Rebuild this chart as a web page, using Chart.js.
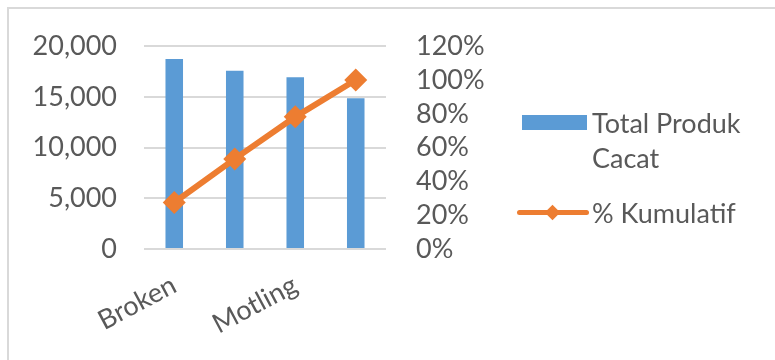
<!DOCTYPE html>
<html>
<head>
<meta charset="utf-8">
<script src="https://cdn.jsdelivr.net/npm/chart.js@4.4.1/dist/chart.umd.min.js"></script>
<style>
  body { margin: 0; background: #fff; }
  #wrap { position: relative; width: 775px; height: 360px; overflow: hidden; font-family: Lato, sans-serif; color: #595959; }
  #frame { position: absolute; left: 7px; top: 7px; width: 820px; height: 420px; border: 2px solid #d9d9d9; }
  #chart { position: absolute; left: 0; top: 0; }
  .item { position: absolute; left: 515px; display: flex; align-items: flex-start; }
  .sym { width: 77px; height: 35px; position: relative; flex: none; }
  .txt { width: 180px; font-size: 27px; line-height: 35px; }
  .box { position: absolute; left: 7px; right: 5px; top: 10px; height: 15px; }
  .ln { position: absolute; left: 2px; right: 3px; top: 15px; height: 5px; border-radius: 3px; }
  .dia { position: absolute; left: 32px; top: 12px; width: 11px; height: 11px; transform: rotate(45deg); }
</style>
</head>
<body>
<div id="wrap">
  <div id="frame"></div>
  <canvas id="chart" width="775" height="360"></canvas>
  <div id="legend"></div>
</div>
<script>
// ---------- data ----------
const categories = ["Broken", "Crack", "Motling", "Chipping"];
const totalCacat = [18750, 17580, 16930, 14870];
const persenKumulatif = [27.5, 53.3, 78.2, 100];
const leftTicks = [0, 5000, 10000, 15000, 20000];
const rightTicks = [0, 20, 40, 60, 80, 100, 120];

const BLUE = "#5B9BD5";
const ORANGE = "#ED7D31";
const TEXT = "#595959";
const FONT = { family: "Lato", size: 27 };

// ---------- chart ----------
const ctx = document.getElementById("chart");

const chart = new Chart(ctx, {
  type: "bar",
  data: {
    labels: categories,
    datasets: [
      {
        type: "line",
        label: "% Kumulatif",
        data: persenKumulatif,
        yAxisID: "y1",
        borderColor: ORANGE,
        backgroundColor: ORANGE,
        borderWidth: 6,
        pointStyle: "rectRot",
        pointRadius: 11.5,
        pointBorderWidth: 0,
        tension: 0,
        order: 0
      },
      {
        label: "Total Produk Cacat",
        data: totalCacat,
        yAxisID: "y",
        backgroundColor: BLUE,
        barPercentage: 0.29,
        categoryPercentage: 1,
        order: 1
      }
    ]
  },
  options: {
    responsive: false,
    animation: false,
    layout: { padding: { left: 0, top: 44, right: 289, bottom: 0 } },
    plugins: {
      legend: { display: false },
      tooltip: { enabled: false }
    },
    scales: {
      x: {
        grid: { display: false },
        border: { display: false },
        afterFit(s) { s.height = 111; },
        ticks: {
          autoSkip: false,
          minRotation: 28,
          maxRotation: 28,
          padding: 12,
          color: TEXT,
          font: FONT,
          callback: (v, i) => (i % 2 === 0 ? categories[i] : "")
        }
      },
      y: {
        position: "left",
        min: leftTicks[0],
        max: leftTicks[leftTicks.length - 1],
        afterFit(s) { s.width = 144; },
        afterBuildTicks(s) { s.ticks = leftTicks.map(v => ({ value: v })); },
        grid: { color: "#d9d9d9", lineWidth: 2, drawTicks: false },
        border: { display: false },
        ticks: {
          autoSkip: false,
          padding: 27,
          color: TEXT,
          font: FONT,
          callback: v => v.toLocaleString("en-US")
        }
      },
      y1: {
        position: "right",
        min: rightTicks[0],
        max: rightTicks[rightTicks.length - 1],
        afterFit(s) { s.width = 100; },
        afterBuildTicks(s) { s.ticks = rightTicks.map(v => ({ value: v })); },
        grid: { display: false, drawTicks: false },
        border: { display: false },
        ticks: {
          autoSkip: false,
          padding: 30,
          color: TEXT,
          font: FONT,
          callback: v => v + "%"
        }
      }
    }
  }
});

// ---------- legend (html, wraps like the original) ----------
const legendTops = { "Total Produk Cacat": 105, "% Kumulatif": 195 };
const legend = document.getElementById("legend");
chart.data.datasets.slice().reverse().forEach(ds => {
  const item = document.createElement("div");
  item.className = "item";
  item.style.top = legendTops[ds.label] + "px";
  const sym = document.createElement("div");
  sym.className = "sym";
  if (ds.type === "line") {
    sym.innerHTML = '<div class="ln" style="background:' + ds.borderColor + '"></div>' +
                    '<div class="dia" style="background:' + ds.borderColor + '"></div>';
  } else {
    sym.innerHTML = '<div class="box" style="background:' + ds.backgroundColor + '"></div>';
  }
  const txt = document.createElement("div");
  txt.className = "txt";
  txt.textContent = ds.label;
  item.appendChild(sym);
  item.appendChild(txt);
  legend.appendChild(item);
});
</script>
</body>
</html>
